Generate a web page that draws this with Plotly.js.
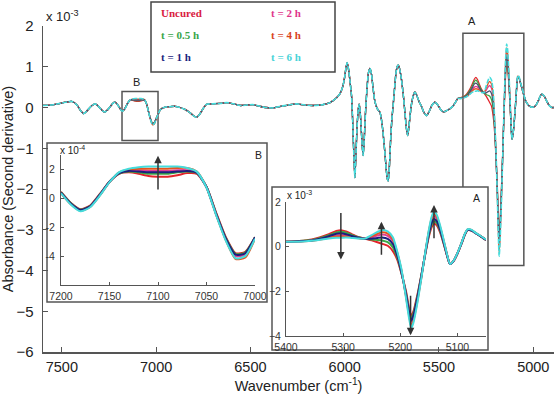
<!DOCTYPE html>
<html><head><meta charset="utf-8">
<script src="https://cdn.plot.ly/plotly-3.0.1.min.js"></script>
<style>html,body{margin:0;padding:0;background:#fff;}#chart{width:554px;height:394px;}</style>
</head><body><div id="chart"></div>
<script>
// ---------------- DATA (absorbance 2nd derivative, units of 1e-3) ----------------
const seriesNames  = ['Uncured', 't = 0.5 h', 't = 1 h', 't = 2 h', 't = 4 h', 't = 6 h'];
const seriesColors = ['#e3242b', '#3aa845', '#1b1f7e', '#df3b95', '#e5531d', '#45dcdc'];
const legendColors = ['#d9213f', '#3aa64a', '#1a237e', '#e0348c', '#d9431e', '#49d3d8'];

const mainXTicks = [7500, 7000, 6500, 6000, 5500, 5000];
const mainYTicks = [-6, -5, -4, -3, -2, -1, 0, 1, 2];
const insetBXTicks = [7200, 7150, 7100, 7050, 7000];
const insetBYTicks = [-0.4, -0.2, 0, 0.2];
const insetBYText  = ['-4', '-2', '0', '2'];
const insetAXTicks = [5400, 5300, 5200, 5100];
const insetAYTicks = [-4, -2, 0, 2];

// common part (all samples overlap), 7600 - 7208 cm-1
const wnLeft  = [7600, 7560, 7520, 7480, 7448, 7420, 7400, 7386, 7370, 7355,
                 7340, 7324, 7310, 7295, 7282, 7271, 7258, 7245, 7230, 7218, 7208];
const absLeft = [0.05, 0.06, 0.09, 0.13, 0.15, 0.06, -0.08, -0.15, -0.10, -0.02,
                 0.05, 0.09, 0.05, -0.03, -0.09, -0.11, -0.06, 0.01, 0.10, 0.13, 0.09];

// region B, 7200 - 7000 cm-1
const wnB = [7200, 7190, 7180, 7170, 7160, 7150, 7140, 7130, 7120, 7110,
             7100, 7090, 7080, 7070, 7060, 7050, 7040, 7030, 7020, 7010, 7000];
const bUncured = [0.045, -0.030, -0.075, -0.050, 0.030, 0.115, 0.170, 0.180, 0.170, 0.155,
                  0.150, 0.150, 0.160, 0.175, 0.170, 0.080, -0.100, -0.270, -0.380, -0.370, -0.270];
const bT05 = [0.043, -0.032, -0.078, -0.053, 0.027, 0.115, 0.172, 0.185, 0.180, 0.170,
              0.170, 0.170, 0.180, 0.185, 0.175, 0.080, -0.105, -0.275, -0.385, -0.375, -0.270];
const bT1  = [0.040, -0.035, -0.080, -0.055, 0.025, 0.115, 0.175, 0.190, 0.185, 0.180,
              0.180, 0.180, 0.185, 0.190, 0.178, 0.078, -0.110, -0.280, -0.390, -0.380, -0.270];
const bT2  = [0.038, -0.038, -0.083, -0.058, 0.022, 0.114, 0.177, 0.195, 0.195, 0.190,
              0.190, 0.190, 0.195, 0.195, 0.180, 0.077, -0.112, -0.285, -0.400, -0.390, -0.275];
const bT4  = [0.036, -0.040, -0.087, -0.060, 0.020, 0.113, 0.180, 0.200, 0.205, 0.205,
              0.205, 0.205, 0.210, 0.210, 0.185, 0.076, -0.115, -0.290, -0.420, -0.410, -0.280];
const bT6  = [0.035, -0.042, -0.090, -0.062, 0.018, 0.112, 0.182, 0.205, 0.215, 0.220,
              0.220, 0.220, 0.220, 0.210, 0.185, 0.075, -0.118, -0.295, -0.415, -0.400, -0.280];

// common part, 6990 - 5410 cm-1
const wnMid = [6990, 6980, 6965, 6950, 6930, 6900, 6874, 6850, 6820, 6800,
               6785, 6770, 6750, 6732, 6700, 6660, 6626, 6590, 6555, 6520,
               6487, 6450, 6420, 6380, 6340, 6300, 6255, 6210, 6160, 6115,
               6078, 6043, 6025, 6010, 6000, 5994, 5987, 5980, 5972, 5964,
               5958, 5952, 5946, 5940, 5934, 5928, 5923, 5918, 5912, 5907,
               5902, 5896, 5890, 5882, 5874, 5866, 5858, 5850, 5842, 5831,
               5822, 5813, 5805, 5797, 5788, 5780, 5774, 5769, 5763, 5757,
               5750, 5743, 5735, 5728, 5722, 5716, 5709, 5702, 5695, 5688,
               5680, 5673, 5666, 5660, 5652, 5645, 5637, 5628, 5618, 5606,
               5592, 5580, 5566, 5552, 5538, 5522, 5506, 5490, 5477, 5460,
               5442, 5425, 5410];
const absMid = [-0.17, -0.07, -0.01, 0.01, 0.02, 0.03, 0.00, -0.04, -0.13, -0.21,
                -0.24, -0.17, -0.02, 0.08, 0.09, 0.10, 0.12, 0.09, 0.05, 0.06,
                0.07, 0.03, 0.00, -0.01, 0.03, 0.06, 0.09, 0.06, 0.05, 0.07,
                0.12, 0.24, 0.34, 0.52, 0.75, 0.95, 1.10, 0.95, 0.65, 0.30,
                -0.30, -1.10, -1.72, -1.10, -0.45, -0.05, 0.08, -0.10, -0.55, -0.95,
                -1.18, -0.75, -0.15, 0.45, 0.85, 0.96, 0.82, 0.50, 0.20, 0.01,
                -0.07, -0.12, -0.30, -0.60, -1.05, -1.50, -1.75, -1.80, -1.45, -0.85,
                -0.30, 0.05, 0.50, 0.85, 1.00, 1.04, 0.95, 0.78, 0.55, 0.25,
                -0.15, -0.50, -0.69, -0.50, -0.15, 0.10, 0.28, 0.38, 0.30, 0.15,
                0.02, -0.12, -0.20, -0.10, 0.05, 0.13, 0.06, -0.06, -0.11, -0.08,
                -0.03, 0.04, 0.15];

// region A, 5400 - 5050 cm-1
const wnA = [5400, 5385, 5370, 5355, 5340, 5325, 5312, 5304, 5295, 5285,
             5275, 5262, 5250, 5240, 5232, 5222, 5213, 5205, 5198, 5190,
             5185, 5181, 5177, 5170, 5163, 5156, 5150, 5145, 5141, 5136,
             5130, 5124, 5118, 5113, 5107, 5100, 5093, 5087, 5082, 5075,
             5068, 5060, 5050];
const aUncured = [0.22, 0.24, 0.27, 0.32, 0.42, 0.56, 0.70, 0.74, 0.68, 0.56,
                  0.45, 0.36, 0.28, 0.20, 0.13, 0.04, -0.20, -0.60, -1.20, -2.00,
                  -2.70, -3.10, -2.90, -2.15, -1.25, -0.30, 0.45, 0.88, 1.02, 0.95,
                  0.62, 0.12, -0.42, -0.78, -0.66, -0.32, 0.12, 0.53, 0.74, 0.72,
                  0.60, 0.47, 0.30];
const aT05 = [0.22, 0.235, 0.26, 0.30, 0.39, 0.51, 0.64, 0.67, 0.62, 0.52,
              0.43, 0.36, 0.32, 0.30, 0.28, 0.20, -0.03, -0.50, -1.17, -2.07,
              -2.80, -3.22, -3.00, -2.22, -1.27, -0.27, 0.52, 0.99, 1.13, 1.05,
              0.68, 0.16, -0.41, -0.78, -0.65, -0.31, 0.13, 0.54, 0.75, 0.72,
              0.60, 0.47, 0.30];
const aT1  = [0.22, 0.23, 0.25, 0.28, 0.36, 0.47, 0.58, 0.60, 0.56, 0.48,
              0.41, 0.36, 0.36, 0.39, 0.41, 0.35, 0.12, -0.42, -1.15, -2.13,
              -2.88, -3.32, -3.08, -2.28, -1.30, -0.25, 0.58, 1.08, 1.24, 1.14,
              0.74, 0.19, -0.40, -0.78, -0.65, -0.30, 0.14, 0.55, 0.75, 0.72,
              0.60, 0.47, 0.30];
const aT2  = [0.22, 0.225, 0.245, 0.27, 0.34, 0.43, 0.50, 0.52, 0.50, 0.45,
              0.40, 0.36, 0.42, 0.50, 0.54, 0.48, 0.25, -0.35, -1.10, -2.18,
              -2.95, -3.45, -3.20, -2.35, -1.33, -0.23, 0.64, 1.17, 1.36, 1.25,
              0.80, 0.23, -0.38, -0.78, -0.65, -0.30, 0.15, 0.56, 0.76, 0.73,
              0.61, 0.48, 0.31];
const aT4  = [0.22, 0.22, 0.24, 0.265, 0.32, 0.40, 0.45, 0.46, 0.45, 0.42,
              0.39, 0.36, 0.47, 0.58, 0.64, 0.58, 0.33, -0.30, -1.05, -2.23,
              -3.02, -3.56, -3.30, -2.42, -1.36, -0.22, 0.70, 1.27, 1.46, 1.34,
              0.86, 0.27, -0.37, -0.78, -0.64, -0.29, 0.16, 0.57, 0.77, 0.74,
              0.61, 0.48, 0.31];
const aT6  = [0.22, 0.22, 0.235, 0.26, 0.31, 0.37, 0.40, 0.40, 0.41, 0.39,
              0.37, 0.36, 0.52, 0.66, 0.74, 0.68, 0.42, -0.25, -1.00, -2.30,
              -3.15, -3.65, -3.40, -2.50, -1.40, -0.20, 0.75, 1.35, 1.56, 1.42,
              0.92, 0.30, -0.36, -0.78, -0.64, -0.29, 0.16, 0.58, 0.78, 0.75,
              0.62, 0.49, 0.32];

// common part, 5040 - 4890 cm-1
const wnRight  = [5040, 5028, 5015, 5000, 4985, 4970, 4956, 4942, 4928, 4914, 4900, 4890];
const absRight = [0.16, 0.07, 0.02, 0.01, 0.06, 0.20, 0.33, 0.28, 0.15, 0.04, 0.00, 0.00];

const regionB = [bUncured, bT05, bT1, bT2, bT4, bT6];
const regionA = [aUncured, aT05, aT1, aT2, aT4, aT6];

// ---------------- LAYOUT HELPERS ----------------
const W = 554, H = 394;
const PL = 43, PR = 554, PT = 26, PB = 352;          // main plot box in px
const XR = [7600, 4890], YR = [-6, 2];
const fx = p => (p - PL) / (PR - PL);
const fy = p => (PB - p) / (PB - PT);
const dx = p => XR[0] + (p - PL) * (XR[1] - XR[0]) / (PR - PL);
const dy = p => YR[0] + (PB - p) * (YR[1] - YR[0]) / (PB - PT);
const FONT = 'Arial, "Liberation Sans", sans-serif';

// ---------------- TRACES ----------------
const drawOrder = [0, 1, 3, 4, 2, 5];
const traces = [];
drawOrder.forEach(i => {
  const isTop = i === 5;
  traces.push({
    type: 'scatter', mode: 'lines', name: seriesNames[i], showlegend: false,
    x: wnLeft.concat(wnB, wnMid, wnA, wnRight),
    y: absLeft.concat(regionB[i], absMid, regionA[i], absRight),
    xaxis: 'x', yaxis: 'y',
    line: {color: i === 2 ? '#4a4f6e' : seriesColors[i], width: isTop ? 1.6 : 1.3,
           shape: 'spline', smoothing: 0.6, dash: isTop ? '5px,1.5px' : 'solid'},
    hoverinfo: 'skip'
  });
});
drawOrder.forEach(i => {
  traces.push({
    type: 'scatter', mode: 'lines', name: seriesNames[i], showlegend: false,
    x: wnB, y: regionB[i], xaxis: 'x2', yaxis: 'y2',
    line: {color: seriesColors[i], width: 2, shape: 'spline', smoothing: 0.6}, hoverinfo: 'skip'
  });
});
drawOrder.forEach(i => {
  traces.push({
    type: 'scatter', mode: 'lines', name: seriesNames[i], showlegend: false,
    x: wnA, y: regionA[i], xaxis: 'x3', yaxis: 'y3',
    line: {color: seriesColors[i], width: 2, shape: 'spline', smoothing: 0.6}, hoverinfo: 'skip'
  });
});

// ---------------- AXES ----------------
const baseAxis = {
  showgrid: false, zeroline: false, showline: true, linecolor: '#555', linewidth: 1.5,
  ticks: 'inside', ticklen: 5, tickwidth: 1, tickcolor: '#555',
  tickfont: {family: FONT, size: 15, color: '#222'}, tickmode: 'array', fixedrange: true
};
const insetAxis = Object.assign({}, baseAxis, {
  linewidth: 1, ticklen: 3, tickfont: {family: FONT, size: 10.5, color: '#333'}
});

const layout = {
  width: W, height: H, autosize: false,
  margin: {l: PL, r: W - PR, t: PT, b: H - PB, pad: 0},
  paper_bgcolor: '#fff', plot_bgcolor: 'rgba(0,0,0,0)',
  showlegend: false,
  xaxis: Object.assign({}, baseAxis, {
    domain: [0, 1], range: XR, tickvals: mainXTicks, ticklabelstandoff: 1, anchor: 'y',
    tickfont: {family: FONT, size: 14.5, color: '#222'},
    title: {text: 'Wavenumber (cm<sup>-1</sup>)', font: {family: FONT, size: 14.5, color: '#222'}, standoff: 9}
  }),
  yaxis: Object.assign({}, baseAxis, {
    domain: [0, 1], range: YR, tickvals: mainYTicks, ticklabelstandoff: 5, anchor: 'x',
    title: {text: 'Absorbance (Second derivative)', font: {family: FONT, size: 14.5, color: '#222'}, standoff: 6}
  }),
  xaxis2: Object.assign({}, insetAxis, {
    domain: [fx(61), fx(255)], range: [7200, 7000], tickvals: insetBXTicks, anchor: 'y2', ticklabelstandoff: 1
  }),
  yaxis2: Object.assign({}, insetAxis, {
    domain: [fy(285), fy(155)], range: [-0.6, 0.3], tickvals: insetBYTicks, ticktext: insetBYText,
    anchor: 'x2', ticklabelstandoff: 3
  }),
  xaxis3: Object.assign({}, insetAxis, {
    domain: [fx(286), fx(486)], range: [5400, 5050], tickvals: insetAXTicks, anchor: 'y3', ticklabelstandoff: 1
  }),
  yaxis3: Object.assign({}, insetAxis, {
    domain: [fy(336), fy(202)], range: [-4, 2], tickvals: insetAYTicks, anchor: 'x3', ticklabelstandoff: 2
  }),
  shapes: [
    // region boxes on the main spectrum
    {type: 'rect', xref: 'x', yref: 'y', layer: 'below', x0: 7181, x1: 6990, y0: -0.81, y1: 0.39,
     line: {color: '#555', width: 1.5}, fillcolor: 'rgba(0,0,0,0)'},
    {type: 'rect', xref: 'x', yref: 'y', layer: 'below', x0: 5373, x1: 5050, y0: -3.88, y1: 1.82,
     line: {color: '#555', width: 1.5}, fillcolor: 'rgba(0,0,0,0)'},
    // inset frames
    {type: 'rect', xref: 'x', yref: 'y', layer: 'below', x0: dx(47), x1: dx(267), y0: dy(302), y1: dy(143),
     line: {color: '#555', width: 1.5}, fillcolor: '#fff'},
    {type: 'rect', xref: 'x', yref: 'y', layer: 'below', x0: dx(272), x1: dx(488), y0: dy(350), y1: dy(187),
     line: {color: '#555', width: 1.5}, fillcolor: '#fff'},
    // legend frame
    {type: 'rect', xref: 'paper', yref: 'paper', layer: 'above', x0: fx(151), x1: fx(335), y0: fy(72), y1: fy(2),
     line: {color: '#444', width: 1.5}, fillcolor: 'rgba(0,0,0,0)'}
  ],
  annotations: []
};

const ann = layout.annotations;
const txt = (text, px, py, size, anchor, extra) => ann.push(Object.assign({
  text: text, xref: 'paper', yref: 'paper', x: fx(px), y: fy(py), xanchor: anchor || 'center', yanchor: 'middle',
  showarrow: false, font: {family: FONT, size: size, color: '#222'}
}, extra || {}));

txt('x 10<sup>-3</sup>', 44, 16, 13, 'left');
txt('B', 136.7, 82, 11);
txt('A', 471.7, 21, 11);
txt('x 10<sup>-4</sup>', 58, 150, 10, 'left');
txt('B', 258, 155, 10.5);
txt('x 10<sup>-3</sup>', 285, 195, 10, 'left');
txt('A', 476, 198, 10.5);

// legend entries
const legPos = [[159, 13], [159, 35], [159, 57], [269, 13], [269, 35], [269, 57]];
seriesNames.forEach((n, i) => {
  txt('<b>' + n + '</b>', legPos[i][0], legPos[i][1], 11, 'left',
      {font: {family: '"Liberation Serif", "DejaVu Serif", serif', size: 11, color: legendColors[i]}});
});

// trend arrows in insets
const arrow = (xr, yr, x, yTail, yHead) => ann.push({
  xref: xr, yref: yr, axref: xr, ayref: yr, x: x, y: yHead, ax: x, ay: yTail, text: '',
  showarrow: true, arrowhead: 2, arrowsize: 1, arrowwidth: 1.5, arrowcolor: '#333'
});
arrow('x2', 'y2', 7100, 0.05, 0.295);
arrow('x3', 'y3', 5304, 1.57, -0.58);
arrow('x3', 'y3', 5233, -0.43, 1.12);
arrow('x3', 'y3', 5182, -2.13, -3.97);
arrow('x3', 'y3', 5141, 0.31, 1.87);

Plotly.newPlot('chart', traces, layout, {displayModeBar: false, staticPlot: true});
</script>
</body></html>
